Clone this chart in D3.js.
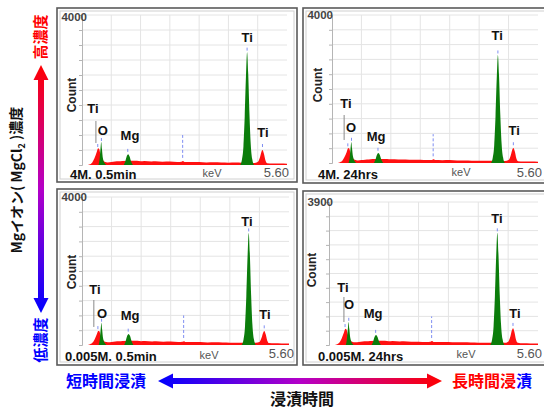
<!DOCTYPE html>
<html>
<head>
<meta charset="utf-8">
<script src="https://cdn.jsdelivr.net/npm/d3@7"></script>
<style>
  body { margin: 0; background: #fff; }
  svg { display: block; font-family: "Liberation Sans", Arial, sans-serif; }
  .jp { font-family: "Noto Sans CJK JP", sans-serif; font-weight: bold; }
</style>
</head>
<body>
<svg id="chart" width="544" height="409"></svg>
<script>
// panel order: top-left, top-right, bottom-left, bottom-right
var panelTitles = ["4M. 0.5min", "4M. 24hrs", "0.005M. 0.5min", "0.005M. 24hrs"];
var countMax = [4000, 4000, 4000, 3900];
var keVMax = 5.60;
var keVGrid = [0.8, 1.6, 2.4, 3.2, 4.0, 4.8];

// full spectrum (red), [keV, count]
var spectrum1 = [[0,0],[0.12,0],[0.2,15],[0.28,70],[0.34,180],[0.4,340],[0.44,450],[0.47,430],[0.5,300],[0.56,150],[0.62,90],[0.7,70],[0.8,80],[0.9,95],[1.0,100],[1.1,110],[1.5,115],[1.6,100],[1.7,108],[1.9,95],[2.0,100],[2.2,88],[2.4,92],[2.6,80],[2.72,85],[2.76,105],[2.8,82],[3.0,78],[3.2,80],[3.4,70],[3.6,72],[3.8,65],[4.0,62],[4.2,64],[4.35,60],[4.7,55],[4.8,80],[4.86,200],[4.9,350],[4.93,400],[4.97,300],[5.01,130],[5.06,50],[5.2,40],[5.4,38],[5.6,35]];
var spectrum2 = [[0,0],[0.12,0],[0.2,15],[0.28,60],[0.34,160],[0.4,300],[0.44,405],[0.47,390],[0.5,280],[0.56,140],[0.62,85],[0.7,70],[0.8,78],[0.9,90],[1.0,95],[1.1,105],[1.5,110],[1.6,98],[1.7,104],[1.9,92],[2.0,96],[2.2,86],[2.4,90],[2.6,78],[2.72,84],[2.76,100],[2.8,80],[3.0,76],[3.2,78],[3.4,68],[3.6,70],[3.8,64],[4.0,60],[4.2,62],[4.35,58],[4.7,55],[4.8,80],[4.86,210],[4.9,360],[4.93,405],[4.97,310],[5.01,130],[5.06,50],[5.2,40],[5.4,38],[5.6,35]];
var spectrum3 = [[0,0],[0.12,0],[0.2,15],[0.28,60],[0.34,150],[0.4,290],[0.44,380],[0.47,370],[0.5,270],[0.56,140],[0.62,85],[0.7,72],[0.8,80],[0.9,92],[1.0,98],[1.1,108],[1.5,112],[1.6,100],[1.7,106],[1.9,94],[2.0,98],[2.2,88],[2.4,92],[2.6,80],[2.72,86],[2.76,104],[2.8,82],[3.0,78],[3.2,80],[3.4,70],[3.6,72],[3.8,66],[4.0,62],[4.2,64],[4.35,60],[4.7,58],[4.8,80],[4.86,200],[4.9,330],[4.93,380],[4.97,290],[5.01,125],[5.06,55],[5.2,45],[5.4,42],[5.6,40]];
var spectrum4 = [[0,0],[0.12,0],[0.2,15],[0.28,70],[0.34,180],[0.4,340],[0.44,440],[0.47,420],[0.5,300],[0.56,150],[0.62,90],[0.7,72],[0.8,82],[0.9,95],[1.0,100],[1.1,110],[1.5,114],[1.6,100],[1.7,108],[1.9,96],[2.0,100],[2.2,90],[2.4,92],[2.6,82],[2.72,88],[2.76,106],[2.8,84],[3.0,80],[3.2,80],[3.4,72],[3.6,72],[3.8,66],[4.0,62],[4.2,64],[4.35,60],[4.7,58],[4.8,90],[4.86,230],[4.9,400],[4.93,460],[4.97,350],[5.01,150],[5.06,60],[5.2,45],[5.4,42],[5.6,40]];

// identified peaks (green): O K, Mg K, Ti K-alpha
var oPeak = [
  [[0.45,0],[0.48,160],[0.505,430],[0.525,613],[0.545,430],[0.57,190],[0.62,45],[0.66,0]],
  [[0.45,0],[0.48,150],[0.505,400],[0.525,570],[0.545,400],[0.57,180],[0.62,40],[0.66,0]],
  [[0.45,0],[0.48,155],[0.505,420],[0.525,600],[0.545,420],[0.57,185],[0.62,45],[0.66,0]],
  [[0.45,0],[0.48,165],[0.505,440],[0.525,630],[0.545,440],[0.57,195],[0.62,45],[0.66,0]]
];
var mgPeak = [
  [[1.14,0],[1.18,90],[1.22,230],[1.26,290],[1.30,230],[1.34,100],[1.39,0]],
  [[1.14,0],[1.18,85],[1.22,215],[1.26,270],[1.30,215],[1.34,95],[1.39,0]],
  [[1.14,0],[1.18,95],[1.22,240],[1.26,300],[1.30,240],[1.34,105],[1.39,0]],
  [[1.14,0],[1.18,85],[1.22,215],[1.26,270],[1.30,215],[1.34,95],[1.39,0]]
];
var tiPeak = [
  [[4.32,0],[4.37,150],[4.41,500],[4.445,1300],[4.48,2400],[4.51,3010],[4.54,2450],[4.575,1350],[4.61,550],[4.65,160],[4.70,0]],
  [[4.32,0],[4.37,145],[4.41,485],[4.445,1260],[4.48,2330],[4.51,2920],[4.54,2380],[4.575,1310],[4.61,535],[4.65,155],[4.70,0]],
  [[4.32,0],[4.37,150],[4.41,505],[4.445,1310],[4.48,2420],[4.51,3030],[4.54,2470],[4.575,1360],[4.61,555],[4.65,160],[4.70,0]],
  [[4.32,0],[4.37,152],[4.41,510],[4.445,1320],[4.48,2440],[4.51,3060],[4.54,2490],[4.575,1370],[4.61,560],[4.65,162],[4.70,0]]
];

// element labels [text, keV, count]
var peakLabels = [
  [["Ti",0.30,1520],["O",0.57,933],["Mg",1.31,800],["Ti",4.51,3413],["Ti",4.94,880]],
  [["Ti",0.38,1622],["O",0.52,973],["Mg",1.20,730],["Ti",4.49,3460],["Ti",4.95,892]],
  [["Ti",0.35,1514],["O",0.54,865],["Mg",1.30,811],["Ti",4.46,3351],["Ti",4.95,838]],
  [["Ti",0.375,1582],["O",0.54,1118],["Mg",1.18,873],["Ti",4.50,3463],["Ti",4.98,873]]
];
// leader under the Ti L label [keV, countTop, countBottom]
var tiLeader = [[0.38,1173,587],[0.33,1297,622],[0.32,1216,487],[0.40,1309,627]];
// blue line markers [keV, countLow, countHigh]
var markers = [
  [[0.43,480,610],[0.53,640,760],[1.25,350,480],[2.75,190,800],[4.51,3050,3170],[4.93,480,610]],
  [[0.43,450,580],[0.53,600,720],[1.25,330,460],[2.75,180,780],[4.51,2960,3080],[4.93,480,610]],
  [[0.43,430,560],[0.53,630,750],[1.25,360,490],[2.75,190,800],[4.51,3070,3190],[4.93,450,580]],
  [[0.43,490,620],[0.53,660,780],[1.25,330,460],[2.75,190,780],[4.51,3100,3220],[4.93,520,650]]
];

var spectra = [spectrum1, spectrum2, spectrum3, spectrum4];

// layout of the four panels
var boxes = [
  {frame:[57,8,297,182],  plot:[82,15,287,165],  count:[72,95],  title:[70,179],  keV:[212,177], end:[289,177], max:[87,21]},
  {frame:[303,8,548,183], plot:[332,15,538,163], count:[318,85], title:[318,179], keV:[461,176], end:[542,177], max:[333,19]},
  {frame:[57,189,297,365],plot:[82,197,289,345], count:[72,272], title:[65,361],  keV:[209,359], end:[294,358], max:[87,201]},
  {frame:[303,191,548,365],plot:[329,202,538,345],count:[312,270],title:[318,361], keV:[466,358], end:[542,358], max:[333,206]}
];

var svg = d3.select("#chart");

function drawPanel(i) {
  var b = boxes[i];
  var g = svg.append("g").classed("panel", true);

  g.append("rect")
    .attr("x", b.frame[0]).attr("y", b.frame[1])
    .attr("width", b.frame[2] - b.frame[0]).attr("height", b.frame[3] - b.frame[1])
    .attr("fill", "#fff").attr("stroke", "#5a5a5a").attr("stroke-width", 1.6);
  g.append("rect")
    .attr("x", b.frame[0] + 3).attr("y", b.frame[1] + 3)
    .attr("width", b.frame[2] - b.frame[0] - 6).attr("height", b.frame[3] - b.frame[1] - 6)
    .attr("fill", "none").attr("stroke", "#d0d0d0").attr("stroke-width", 1);

  var x = d3.scaleLinear().domain([0, keVMax]).range([b.plot[0], b.plot[2]]);
  var y = d3.scaleLinear().domain([0, countMax[i]]).range([b.plot[3], b.plot[1]]);
  var hTicks = d3.range(0, 11).map(k => countMax[i] * k / 10);

  // grid
  g.append("g").selectAll("line.h")
    .data(hTicks.slice(1))
    .enter().append("line")
      .attr("x1", x(0)).attr("x2", x(keVMax))
      .attr("y1", d => y(d)).attr("y2", d => y(d))
      .attr("stroke", "#e4e4e4").attr("stroke-width", 1);
  g.append("g").selectAll("line.v")
    .data(keVGrid)
    .enter().append("line")
      .attr("x1", d => x(d)).attr("x2", d => x(d))
      .attr("y1", y(0)).attr("y2", y(countMax[i]))
      .attr("stroke", "#e4e4e4").attr("stroke-width", 1);

  var area = d3.area()
    .x(d => x(d[0]))
    .y0(y(0))
    .y1(d => y(d[1]))
    .curve(d3.curveMonotoneX);

  g.append("path")
    .datum(spectra[i])
    .attr("fill", "#ff1010")
    .attr("d", area);

  g.selectAll(".peak")
    .data([oPeak[i], mgPeak[i], tiPeak[i]])
    .enter().append("path")
      .classed("peak", true)
      .attr("fill", "#0b7d0b")
      .attr("d", area);

  // left axis with small ticks
  var axis = g.append("g")
    .attr("transform", "translate(" + x(0) + ",0)")
    .call(d3.axisLeft(y).tickValues(hTicks).tickSize(3).tickFormat(""));
  axis.selectAll("path, line").attr("stroke", "#b5b5b5");

  // blue markers
  g.selectAll(".marker")
    .data(markers[i])
    .enter().append("line")
      .classed("marker", true)
      .attr("x1", d => x(d[0])).attr("x2", d => x(d[0]))
      .attr("y1", d => y(d[1])).attr("y2", d => y(d[2]))
      .attr("stroke", "#7f8ef2").attr("stroke-width", 1)
      .attr("stroke-dasharray", "3,2");

  var ld = tiLeader[i];
  g.append("line")
    .attr("x1", x(ld[0])).attr("x2", x(ld[0]))
    .attr("y1", y(ld[1])).attr("y2", y(ld[2]))
    .attr("stroke", "#8a8a8a").attr("stroke-width", 1);

  g.selectAll(".plabel")
    .data(peakLabels[i])
    .enter().append("text")
      .classed("plabel", true)
      .attr("x", d => x(d[1]))
      .attr("y", d => y(d[2]))
      .attr("dy", "0.35em")
      .attr("text-anchor", "middle")
      .attr("font-size", 13)
      .attr("font-weight", "bold")
      .attr("fill", "#111")
      .text(d => d[0]);

  g.append("text")
    .attr("x", b.max[0]).attr("y", b.max[1])
    .attr("text-anchor", "end")
    .attr("font-size", 11.5).attr("font-weight", "bold").attr("fill", "#444")
    .text(countMax[i]);

  g.append("text")
    .attr("transform", "translate(" + b.count[0] + "," + b.count[1] + ") rotate(-90)")
    .attr("dy", "0.35em")
    .attr("text-anchor", "middle")
    .attr("font-size", 12).attr("font-weight", "bold").attr("fill", "#222")
    .text("Count");

  g.append("text")
    .attr("x", b.title[0]).attr("y", b.title[1])
    .attr("font-size", 13).attr("font-weight", "bold").attr("fill", "#111")
    .text(panelTitles[i]);

  g.append("text")
    .attr("x", b.keV[0]).attr("y", b.keV[1])
    .attr("text-anchor", "middle")
    .attr("font-size", 11).attr("fill", "#555")
    .text("keV");

  g.append("text")
    .attr("x", b.end[0]).attr("y", b.end[1])
    .attr("text-anchor", "end")
    .attr("font-size", 13).attr("fill", "#555")
    .text(keVMax.toFixed(2));
}

function drawArrows() {
  var defs = svg.append("defs");
  var gv = defs.append("linearGradient").attr("id", "gv")
    .attr("x1", 0).attr("y1", 0).attr("x2", 0).attr("y2", 1);
  gv.append("stop").attr("offset", "0%").attr("stop-color", "#ff0000");
  gv.append("stop").attr("offset", "50%").attr("stop-color", "#b400c8");
  gv.append("stop").attr("offset", "100%").attr("stop-color", "#0000ff");
  var gh = defs.append("linearGradient").attr("id", "gh")
    .attr("x1", 0).attr("y1", 0).attr("x2", 1).attr("y2", 0);
  gh.append("stop").attr("offset", "0%").attr("stop-color", "#0000ff");
  gh.append("stop").attr("offset", "50%").attr("stop-color", "#b400c8");
  gh.append("stop").attr("offset", "100%").attr("stop-color", "#ff0000");

  // vertical double arrow
  var cx = 41, t = 65, bt = 313, hw = 7.5, sw = 3, hl = 15;
  svg.append("path")
    .attr("fill", "url(#gv)")
    .attr("d", "M" + cx + "," + t + "L" + (cx + hw) + "," + (t + hl) + "L" + (cx + sw) + "," + (t + hl) +
      "L" + (cx + sw) + "," + (bt - hl) + "L" + (cx + hw) + "," + (bt - hl) + "L" + cx + "," + bt +
      "L" + (cx - hw) + "," + (bt - hl) + "L" + (cx - sw) + "," + (bt - hl) + "L" + (cx - sw) + "," + (t + hl) +
      "L" + (cx - hw) + "," + (t + hl) + "Z");

  // horizontal double arrow
  var cy = 381, l = 158, r = 442;
  svg.append("path")
    .attr("fill", "url(#gh)")
    .attr("d", "M" + l + "," + cy + "L" + (l + hl) + "," + (cy - hw) + "L" + (l + hl) + "," + (cy - sw) +
      "L" + (r - hl) + "," + (cy - sw) + "L" + (r - hl) + "," + (cy - hw) + "L" + r + "," + cy +
      "L" + (r - hl) + "," + (cy + hw) + "L" + (r - hl) + "," + (cy + sw) + "L" + (l + hl) + "," + (cy + sw) +
      "L" + (l + hl) + "," + (cy + hw) + "Z");

  svg.append("text").classed("jp", true)
    .attr("transform", "translate(41,37) rotate(-90)")
    .attr("text-anchor", "middle").attr("dy", "0.36em")
    .attr("font-size", 15).attr("fill", "#ff0000")
    .text("高濃度");
  svg.append("text").classed("jp", true)
    .attr("transform", "translate(41,340) rotate(-90)")
    .attr("text-anchor", "middle").attr("dy", "0.36em")
    .attr("font-size", 15).attr("fill", "#0000ff")
    .text("低濃度");

  var side = svg.append("text").classed("jp", true)
    .attr("transform", "translate(17,180) rotate(-90)")
    .attr("text-anchor", "middle").attr("dy", "0.36em")
    .attr("font-size", 14).attr("fill", "#111");
  side.append("tspan").text("Mgイオン( MgCl");
  side.append("tspan").attr("font-size", 9).attr("dy", "0.3em").text("2");
  side.append("tspan").attr("dy", "-0.3em").text(" )濃度");

  svg.append("text").classed("jp", true)
    .attr("x", 106).attr("y", cy).attr("dy", "0.36em")
    .attr("text-anchor", "middle")
    .attr("font-size", 16).attr("fill", "#0000ff")
    .text("短時間浸漬");

  var right = svg.append("text").classed("jp", true)
    .attr("x", 492).attr("y", cy).attr("dy", "0.36em")
    .attr("text-anchor", "middle")
    .attr("font-size", 16);
  right.append("tspan").attr("fill", "#ff0000").text("長時間浸");
  right.append("tspan").attr("fill", "#0000ff").text("漬");

  svg.append("text").classed("jp", true)
    .attr("x", 302).attr("y", 399).attr("dy", "0.36em")
    .attr("text-anchor", "middle")
    .attr("font-size", 16).attr("fill", "#111")
    .text("浸漬時間");
}

for (var i = 0; i < 4; i++) drawPanel(i);
drawArrows();
</script>
</body>
</html>
